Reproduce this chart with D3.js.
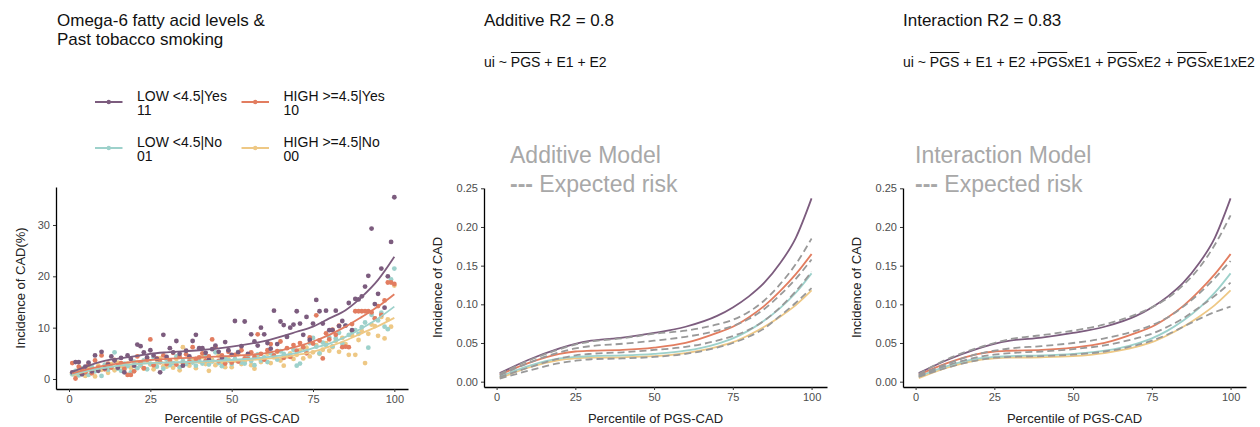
<!DOCTYPE html>
<html><head><meta charset="utf-8">
<script src="https://cdn.jsdelivr.net/npm/d3@7"></script>
<style>
body{margin:0;background:#fff;}
svg{display:block;font-family:"Liberation Sans",Arial,Helvetica,sans-serif;}
</style>
</head><body>
<svg id="c" width="1260" height="427"></svg>
<script>
// ---------------- DATA ----------------
const groupKeys = ["11", "10", "01", "00"];
const groupLabels = [["LOW <4.5|Yes", "11"], ["HIGH >=4.5|Yes", "10"], ["LOW <4.5|No", "01"], ["HIGH >=4.5|No", "00"]];
const groupColors = ["#7C5C7E", "#E27D60", "#9DD1CB", "#EEC885"];

const percentiles = d3.range(1, 101);
const xTicks = [0, 25, 50, 75, 100];
const yTicksLeft = [0, 10, 20, 30];
const yTicksRisk = [0, 0.05, 0.10, 0.15, 0.20, 0.25];

// observed incidence (%) per percentile, group 11 (purple)
const obs11 = [1.3,3.3,3.3,0.9,2.4,3.2,1.5,4.6,1.6,5.3, 2.1,2.8,4.4,3.6,2.2,4.1,1.3,4.6,3.9,2.6,
  6.7,6.4,5.2,4.2,5.6,4.6,3.9,1.3,8.6,4.3, 6.0,5.2,7.4,4.9,2.6,5.5,4.4,7.4,8.6,6.0,
  6.0,5.1,3.7,5.8,6.5,5.3,4.1,7.2,5.6,4.7, 11.3,5.2,6.4,11.2,4.9,8.7,7.3,6.5,10.0,8.7,
  7.0,5.9,13.3,6.8,11.2,10.5,8.2,10.0,10.6,13.2, 10.8,8.6,12.1,7.6,10.8,15.4,13.2,10.8,13.3,9.5,
  9.5,13.3,10.3,11.3,10.4,14.8,9.5,15.6,15.5,16.1, 18.0,20.1,29.3,14.6,16.6,21.5,13.9,20.0,26.7,35.4];
// group 10 (orange)
const obs10 = [3.1,0.1,2.4,1.9,1.3,2.8,1.1,3.6,2.2,4.6, 1.9,3.0,2.2,3.7,2.5,3.1,2.0,0.8,0.8,1.5,
  4.4,3.2,2.1,3.8,7.7,2.7,4.0,3.3,4.6,2.9, 3.6,5.1,2.8,4.3,3.1,4.8,3.4,6.2,3.9,4.2,
  5.0,3.6,4.4,7.7,6.2,3.5,4.6,3.0,5.3,3.2, 4.7,3.4,5.6,4.0,3.9,5.2,4.3,8.7,4.9,3.8,
  5.6,6.8,4.6,5.4,7.3,4.1,6.0,4.3,6.6,5.5, 7.0,6.2,5.0,8.1,6.9,12.4,7.5,4.0,8.9,7.7,
  9.6,8.6,10.4,6.2,6.3,6.2,10.7,13.2,13.2,13.2, 13.2,13.2,13.0,11.8,14.2,12.5,15.3,18.8,18.8,18.5];
// group 01 (teal)
const obs01 = [0.9,1.6,0.7,2.1,1.2,0.8,2.4,1.5,1.9,0.6, 2.8,1.8,2.3,5.2,2.0,1.6,3.0,2.5,1.3,3.4,
  2.1,2.7,3.6,1.9,3.0,4.2,2.4,3.3,2.0,3.8, 2.7,3.1,4.4,2.3,3.5,2.9,4.0,3.2,2.6,3.7,
  3.0,4.5,2.8,3.4,5.2,3.1,2.5,4.1,3.6,2.9, 3.9,5.3,3.2,3.0,4.4,3.5,2.7,4.8,3.6,4.2,
  3.3,5.0,4.6,3.8,5.4,4.9,8.3,4.5,5.7,2.6, 3.0,6.1,5.3,7.0,8.0,6.3,5.0,7.1,6.6,8.1,
  6.4,7.9,9.0,6.9,10.4,8.6,9.2,9.5,8.8,10.1, 11.0,6.1,12.5,11.8,11.4,12.9,10.2,9.7,19.4,21.5];
// group 00 (yellow)
const obs00 = [1.1,0.8,1.8,1.4,0.6,2.2,1.5,0.5,2.6,1.8, 2.3,1.2,2.9,1.7,3.2,2.5,1.9,3.0,2.2,1.6,
  3.3,2.6,2.0,3.6,2.8,1.9,3.1,4.0,2.5,2.4, 3.5,2.2,3.9,1.7,6.2,3.0,2.6,3.8,2.1,3.4,
  4.3,2.9,1.6,3.7,2.7,4.6,3.2,2.3,3.9,2.3, 3.6,4.8,2.9,3.4,4.1,2.7,2.0,4.5,3.3,3.8,
  4.9,3.1,4.2,5.3,3.6,2.6,4.4,5.0,3.9,4.7, 5.6,4.0,6.1,4.4,5.2,6.6,4.9,5.7,7.0,5.5,
  6.2,7.4,5.3,8.0,6.8,4.7,8.5,4.7,7.6,9.3, 3.1,8.8,10.6,10.3,8.4,12.1,7.9,11.6,10.2,18.2];

// fitted curves, sampled at these percentiles
const fitGrid = [1, 10, 20, 25, 30, 40, 50, 60, 70, 75, 80, 85, 90, 95, 100];
// left panel fits (%)
const fitPct11 = [1.4, 3.4, 4.4, 4.9, 5.2, 5.6, 6.3, 7.4, 9.2, 10.2, 11.8, 13.4, 16.0, 19.3, 23.8];
const fitPct10 = [1.1, 2.5, 3.4, 3.7, 3.9, 4.2, 4.5, 5.0, 6.3, 7.3, 8.6, 10.2, 12.1, 14.1, 16.5];
const fitPct01 = [0.9, 2.1, 2.9, 3.1, 3.2, 3.4, 3.7, 4.2, 5.1, 6.0, 6.9, 8.2, 9.9, 11.8, 14.1];
const fitPct00 = [0.8, 2.1, 2.9, 3.1, 3.2, 3.3, 3.5, 3.9, 4.7, 5.3, 6.3, 7.5, 8.9, 10.3, 11.9];
// model panels: observed-risk fits (proportion)
const fitRisk11 = [0.011, 0.028, 0.043, 0.049, 0.053, 0.057, 0.063, 0.071, 0.085, 0.096, 0.110, 0.128, 0.153, 0.186, 0.237];
const fitRisk10 = [0.009, 0.024, 0.036, 0.039, 0.040, 0.041, 0.044, 0.050, 0.063, 0.071, 0.083, 0.098, 0.117, 0.139, 0.165];
const fitRisk01 = [0.0065, 0.020, 0.030, 0.032, 0.033, 0.034, 0.036, 0.040, 0.049, 0.056, 0.066, 0.079, 0.095, 0.115, 0.140];
const fitRisk00 = [0.0045, 0.018, 0.028, 0.030, 0.031, 0.0315, 0.033, 0.037, 0.045, 0.051, 0.060, 0.071, 0.084, 0.099, 0.118];
// additive model expected risk
const addExp1 = [0.010, 0.027, 0.042, 0.048, 0.052, 0.056, 0.062, 0.066, 0.074, 0.080, 0.090, 0.105, 0.126, 0.152, 0.185];
const addExp2 = [0.008, 0.024, 0.038, 0.043, 0.046, 0.049, 0.053, 0.058, 0.066, 0.072, 0.081, 0.094, 0.112, 0.133, 0.158];
const addExp3 = [0.006, 0.018, 0.030, 0.034, 0.036, 0.038, 0.041, 0.045, 0.053, 0.059, 0.067, 0.079, 0.096, 0.117, 0.142];
const addExp4 = [0.004, 0.014, 0.024, 0.027, 0.029, 0.030, 0.032, 0.036, 0.044, 0.050, 0.058, 0.069, 0.085, 0.102, 0.121];
// interaction model expected risk
const intExp1 = [0.010, 0.029, 0.044, 0.050, 0.055, 0.060, 0.066, 0.074, 0.087, 0.096, 0.108, 0.125, 0.147, 0.177, 0.215];
const intExp2 = [0.008, 0.023, 0.036, 0.040, 0.043, 0.046, 0.050, 0.056, 0.066, 0.073, 0.083, 0.097, 0.114, 0.134, 0.156];
const intExp3 = [0.007, 0.021, 0.032, 0.035, 0.037, 0.039, 0.042, 0.047, 0.056, 0.062, 0.071, 0.082, 0.096, 0.111, 0.128];
const intExp4 = [0.006, 0.018, 0.028, 0.031, 0.032, 0.033, 0.035, 0.039, 0.047, 0.053, 0.061, 0.071, 0.081, 0.090, 0.097];

// texts
const leftTitle = ["Omega-6 fatty acid levels &", "Past tobacco smoking"];
const addTitle = "Additive R2 = 0.8";
const intTitle = "Interaction R2 = 0.83";
const addFormula = [["ui ~ ", 0], ["PGS", 1], [" + E1 + E2", 0]];
const intFormula = [["ui ~ ", 0], ["PGS", 1], [" + E1 + E2 +", 0], ["PGS", 1], ["xE1 + ", 0], ["PGS", 1], ["xE2 + ", 0], ["PGS", 1], ["xE1xE2", 0]];
const addNote = ["Additive Model", ["---", " Expected risk"]];
const intNote = ["Interaction Model", ["---", " Expected risk"]];
const xTitle = "Percentile of PGS-CAD";
const yTitleLeft = "Incidence of CAD(%)";
const yTitleRisk = "Incidence of CAD";

// ---------------- DRAW ----------------
const svg = d3.select("#c");
svg.append("rect").attr("width", 1260).attr("height", 427).attr("fill", "#fff");

const line = (x, y) => d3.line().x(d => x(d[0])).y(d => y(d[1])).curve(d3.curveMonotoneX);
const zip = (xs, ys) => xs.map((v, i) => [v, ys[i]]);

function axes(g, x, y, yTicks, yFmt, yLab, yLabX) {
  const ax = g.append("g").attr("transform", `translate(0,${y.range()[0]})`)
    .call(d3.axisBottom(x).tickValues(xTicks).tickSize(3).tickSizeOuter(0).tickPadding(3));
  const ay = g.append("g").attr("transform", `translate(${x.range()[0]},0)`)
    .call(d3.axisLeft(y).tickValues(yTicks).tickFormat(yFmt).tickSize(3).tickSizeOuter(0).tickPadding(3));
  [ax, ay].forEach(a => {
    a.select(".domain").attr("stroke", "#000").attr("stroke-width", 1.3);
    a.selectAll(".tick line").attr("stroke", "#333").attr("stroke-width", 1);
    a.selectAll(".tick text").attr("fill", "#4D4D4D").style("font-size", "11px").style("font-family", "inherit");
  });
  const xm = (x.range()[0] + x.range()[1]) / 2;
  g.append("text").attr("x", xm).attr("y", 423).attr("text-anchor", "middle")
    .attr("font-size", 13).attr("fill", "#222").text(xTitle);
  const ym = (y.range()[0] + y.range()[1]) / 2;
  g.append("text").attr("transform", `translate(${yLabX},${ym}) rotate(-90)`).attr("text-anchor", "middle")
    .attr("dy", "0.35em").attr("font-size", 13).attr("fill", "#222").text(yLab);
}

// ---- left panel ----
{
  const g = svg.append("g");
  const x = d3.scaleLinear().domain([-4, 104.2]).range([56, 408]);
  const y = d3.scaleLinear().domain([-1.95, 37.4]).range([389, 187]);
  const obs = [obs11, obs10, obs01, obs00];
  const fits = [fitPct11, fitPct10, fitPct01, fitPct00];
  [3, 2, 1, 0].forEach(i => {
    g.append("g").selectAll("circle").data(zip(percentiles, obs[i])).join("circle")
      .attr("cx", d => x(d[0])).attr("cy", d => y(d[1])).attr("r", 2.4).attr("fill", groupColors[i]);
  });
  [3, 2, 1, 0].forEach(i => {
    g.append("path").attr("d", line(x, y)(zip(fitGrid, fits[i]))).attr("fill", "none")
      .attr("stroke", groupColors[i]).attr("stroke-width", 1.8);
  });
  axes(g, x, y, yTicksLeft, d3.format("d"), yTitleLeft, 20);

  leftTitle.forEach((t, i) => svg.append("text").attr("x", 57).attr("y", 26 + i * 18.5)
    .attr("font-size", 17).attr("fill", "#111").text(t));

  // legend
  const cols = [95, 241.5], rows = [102, 148];
  groupLabels.forEach((lab, i) => {
    const kx = cols[i % 2], ky = rows[Math.floor(i / 2)];
    svg.append("line").attr("x1", kx).attr("x2", kx + 27.5).attr("y1", ky).attr("y2", ky)
      .attr("stroke", groupColors[i]).attr("stroke-width", 2);
    svg.append("circle").attr("cx", kx + 13.75).attr("cy", ky).attr("r", 2.2).attr("fill", groupColors[i]);
    lab.forEach((t, j) => svg.append("text").attr("x", kx + 42).attr("y", ky - 1 + j * 14.3)
      .attr("font-size", 14).attr("fill", "#111").text(t));
  });
}

// ---- model panels ----
function modelPanel(x0, x1, title, formula, note, noteX, exps) {
  const g = svg.append("g");
  const x = d3.scaleLinear().domain([-4, 104.9]).range([x0, x1]);
  const y = d3.scaleLinear().domain([-0.0069, 0.2504]).range([387, 188]);
  const fits = [fitRisk11, fitRisk10, fitRisk01, fitRisk00];
  [3, 2, 1, 0].forEach(i => {
    g.append("path").attr("d", line(x, y)(zip(fitGrid, fits[i]))).attr("fill", "none")
      .attr("stroke", groupColors[i]).attr("stroke-width", 1.8);
  });
  exps.forEach(e => {
    g.append("path").attr("d", line(x, y)(zip(fitGrid, e))).attr("fill", "none")
      .attr("stroke", "#999999").attr("stroke-width", 1.8).attr("stroke-dasharray", "7,4");
  });
  axes(g, x, y, yTicksRisk, d3.format(".2f"), yTitleRisk, x0 - 47);

  svg.append("text").attr("x", x0).attr("y", 26).attr("font-size", 17).attr("fill", "#111").text(title);
  const ft = svg.append("text").attr("x", x0).attr("y", 67).attr("font-size", 14).attr("fill", "#111");
  formula.forEach(s => ft.append("tspan").text(s[0]));
  let idx = 0;
  const node = ft.node();
  formula.forEach(s => {
    if (s[1]) {
      const a = node.getStartPositionOfChar(idx).x;
      const b = node.getEndPositionOfChar(idx + s[0].length - 1).x;
      svg.append("line").attr("x1", a).attr("x2", b).attr("y1", 52.5).attr("y2", 52.5)
        .attr("stroke", "#111").attr("stroke-width", 1);
    }
    idx += s[0].length;
  });
  svg.append("text").attr("x", noteX).attr("y", 163).attr("font-size", 23).attr("fill", "#A8A8A8").text(note[0]);
  const n2 = svg.append("text").attr("x", noteX).attr("y", 191.5).attr("font-size", 23).attr("fill", "#A8A8A8");
  n2.append("tspan").attr("font-weight", "bold").text(note[1][0]);
  n2.append("tspan").text(note[1][1]);
}
modelPanel(484, 827, addTitle, addFormula, addNote, 510, [addExp1, addExp2, addExp3, addExp4]);
modelPanel(903, 1246, intTitle, intFormula, intNote, 915, [intExp1, intExp2, intExp3, intExp4]);
</script>
</body></html>
